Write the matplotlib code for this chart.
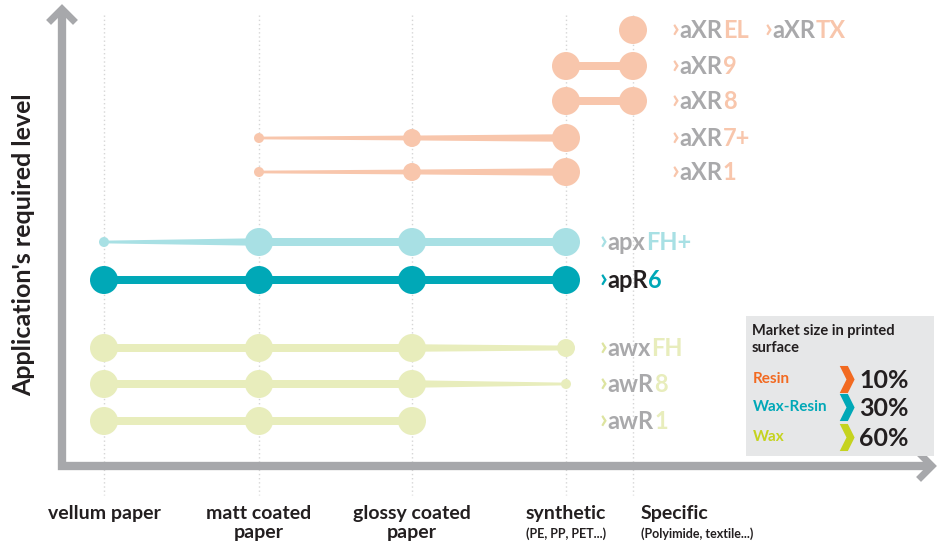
import numpy as np
import matplotlib.pyplot as plt
from matplotlib.patches import Circle
from matplotlib.path import Path

plt.rcParams['font.family'] = ['Lato', 'DejaVu Sans']

# substrates (x categories)
substrates = ["vellum paper", "matt coated\npaper", "glossy coated\npaper", "synthetic", "Specific"]
sub_notes = ["", "", "", "(PE, PP, PET...)", "(Polyimide, textile...)"]

# products, top to bottom: (prefix, suffix, family)
prod_prefix = ["aXR", "aXR", "aXR", "aXR", "aXR", "apx", "apR", "awx", "awR", "awR"]
prod_suffix = ["EL", "9", "8", "7+", "1", "FH+", "6", "FH", "8", "1"]
prod_family = ["resin", "resin", "resin", "resin", "resin",
               "waxresin_l", "waxresin", "wax", "wax", "wax"]
# suitability grade per substrate (0 none, 1 low, 2 medium, 3 high)
grades = [
    [0, 0, 0, 0, 3],
    [0, 0, 0, 3, 3],
    [0, 0, 0, 3, 3],
    [0, 1, 2, 3, 0],
    [0, 1, 2, 3, 0],
    [1, 3, 3, 3, 0],
    [3, 3, 3, 3, 0],
    [3, 3, 3, 2, 0],
    [3, 3, 3, 1, 0],
    [3, 3, 3, 0, 0],
]

# market share legend
market_names = ["Resin", "Wax-Resin", "Wax"]
market_share = [10, 30, 60]

# layout / style
x_pos = [104, 259, 412, 566, 633]
row_y = [30, 66, 101, 138, 172, 242, 280, 348, 384, 421]
radius = {1: 5, 2: 9, 3: 14}
fam_color = {"resin": "#F8C6AC", "waxresin_l": "#A8E0E4",
             "waxresin": "#00A8B7", "wax": "#E8EDBC"}
fam_head = {"resin": "#A9A9AB", "waxresin_l": "#A9A9AB",
            "waxresin": "#231F20", "wax": "#A9A9AB"}
label_x = {"resin": 672, "waxresin_l": 600, "waxresin": 600, "wax": 600}
legend_colors = ["#F26A21", "#00A8B7", "#C5D31F"]
axis_gray = "#A7A8AB"

fig = plt.figure(figsize=(9.41, 5.46), dpi=100)
ax = fig.add_axes([0, 0, 1, 1])
ax.set_xlim(0, 941)
ax.set_ylim(546, 0)
ax.axis('off')

# dotted guides
for x in x_pos:
    ax.plot([x, x], [15, 495], color="#D6D6D6", lw=1, ls=(0, (1, 2)), zorder=0)

# axes arrows
ax.plot([62, 62, 928], [12, 466, 466], color=axis_gray, lw=6, solid_joinstyle='miter',
        solid_capstyle='butt', zorder=1)
ax.plot([51, 62, 73], [20, 9, 20], color=axis_gray, lw=5, solid_joinstyle='miter', zorder=1)
ax.plot([921, 932, 921], [455, 466, 477], color=axis_gray, lw=5, solid_joinstyle='miter', zorder=1)


def colored_text(x, y, parts, size, weight='bold'):
    t = ax.text(x, y, parts[0][0], color=parts[0][1], fontsize=size * 1.15, fontweight=weight,
                va='center', ha='left', zorder=5)
    for s, c in parts[1:]:
        t = ax.annotate(s, xy=(1, 0), xycoords=t, va='bottom', ha='left', color=c,
                        fontsize=size, fontweight=weight, zorder=5)
    return t


for i, g in enumerate(grades):
    fam = prod_family[i]
    col = fam_color[fam]
    y = row_y[i]
    idx = [j for j, v in enumerate(g) if v > 0]
    for a, b in zip(idx[:-1], idx[1:]):
        h0 = radius[g[a]] * 0.27
        h1 = radius[g[b]] * 0.27
        ax.fill([x_pos[a], x_pos[b], x_pos[b], x_pos[a]],
                [y - h0, y - h1, y + h1, y + h0], color=col, lw=0, zorder=2)
    for j in idx:
        ax.add_patch(Circle((x_pos[j], y), radius[g[j]], color=col, lw=0, zorder=3))
    lead = fam_color[fam] if fam != "wax" else "#DDE4A0"
    colored_text(label_x[fam], y, [("›", lead), (prod_prefix[i], fam_head[fam]),
                                  (prod_suffix[i], col)], 17)

# extra label on top row
colored_text(765, row_y[0], [("›", fam_color["resin"]), ("aXR", "#A9A9AB"),
                             ("TX", fam_color["resin"])], 17)

# y label
ax.text(24, 245, "Application's required level", rotation=90, fontsize=18,
        fontweight='bold', color="#231F20", ha='center', va='center')

# x labels
for j, name in enumerate(substrates):
    if j < 4:
        ax.text(x_pos[j], 505, name, ha='center', va='top', fontsize=14,
                fontweight='bold', color="#231F20", linespacing=1.15)
        if sub_notes[j]:
            ax.text(x_pos[j], 534, sub_notes[j], ha='center', va='center', fontsize=9,
                    fontweight='bold', color="#231F20")
    else:
        ax.text(641, 505, name, ha='left', va='top', fontsize=14,
                fontweight='bold', color="#231F20")
        ax.text(641, 534, sub_notes[j], ha='left', va='center', fontsize=9,
                fontweight='bold', color="#231F20")

# legend box
ax.add_patch(plt.Rectangle((746, 316), 188, 140, color="#E6E7E8", lw=0, zorder=1))
ax.text(752, 324, "Market size in printed\nsurface", ha='left', va='top', fontsize=10.5,
        fontweight='bold', color="#231F20", linespacing=1.25, zorder=5)
chev = Path([(-0.5, -1), (0.1, -1), (0.6, 0), (0.1, 1), (-0.5, 1), (0.0, 0), (-0.5, -1)],
            [Path.MOVETO] + [Path.LINETO] * 5 + [Path.CLOSEPOLY])
leg_y = [379, 407, 437]
for k, name in enumerate(market_names):
    ax.text(753, leg_y[k], name, ha='left', va='center', fontsize=11, fontweight='bold',
            color=legend_colors[k], zorder=5)
    ax.scatter([846], [leg_y[k]], marker=chev, s=380, color=legend_colors[k], lw=0, zorder=5)
    ax.text(859, leg_y[k] + 1, f"{market_share[k]}%", ha='left', va='center', fontsize=18,
            fontweight='bold', color="#231F20", zorder=5)

fig.savefig("out.png", dpi=100)
